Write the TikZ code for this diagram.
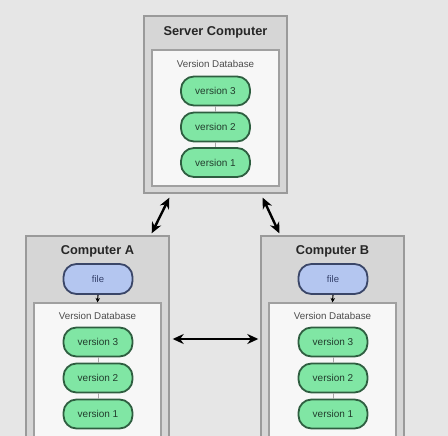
\documentclass[tikz,border=0pt]{standalone}
\usepackage{fontspec}
\setmainfont{Liberation Sans}
\usetikzlibrary{arrows.meta,calc}
\definecolor{bgc}{HTML}{E6E6E6}
\definecolor{boxfill}{HTML}{D6D6D6}
\definecolor{boxline}{HTML}{9A9A9A}
\definecolor{dbfill}{HTML}{F7F7F7}
\definecolor{dbline}{HTML}{A0A0A0}
\definecolor{vfill}{HTML}{80E6A4}
\definecolor{vline}{HTML}{2E5E40}
\definecolor{vtext}{HTML}{223D2D}
\definecolor{ffill}{HTML}{B4C6F0}
\definecolor{fline}{HTML}{3A4668}
\definecolor{ftext}{HTML}{34406A}
\tikzset{
  x=1pt, y=-1pt,
  outerbox/.style={draw=boxline, line width=1.4pt, fill=boxfill, inner sep=0pt},
  dbbox/.style={draw=dbline, line width=1.1pt, fill=dbfill, inner sep=0pt},
  verpill/.style={draw=vline, line width=1.8pt, fill=vfill, rounded corners=13pt,
    minimum width=69pt, minimum height=29pt, inner sep=0pt,
    font=\fontsize{10}{12}\selectfont, text=vtext},
  filepill/.style={draw=fline, line width=1.8pt, fill=ffill, rounded corners=13pt,
    minimum width=69pt, minimum height=30pt, inner sep=0pt,
    font=\fontsize{9.5}{11}\selectfont, text=ftext},
  titletext/.style={font=\bfseries\fontsize{12.8}{15}\selectfont, text=black!85, inner sep=0pt},
  dbtext/.style={font=\fontsize{9.8}{11}\selectfont, text=black!70, inner sep=0pt},
  vlink/.style={draw=gray!70, line width=0.9pt},
  biarrow/.style={line width=2.4pt, {Stealth[length=11pt,width=10pt]}-{Stealth[length=11pt,width=10pt]}},
  smallarrow/.style={line width=1.1pt, -{Stealth[length=4.5pt,width=4.5pt]}},
}
\begin{document}
\begin{tikzpicture}
\useasboundingbox (0,0) rectangle (448,436);
\fill[bgc] (0,0) rectangle (448,436);
\begin{scope}
\clip (0,0) rectangle (448,436);
% Server
\node[outerbox, minimum width=143pt, minimum height=177pt] (srv) at (215.5,104.5) {};
\node[titletext] (srvt) at (215.5,32) {Server Computer};
\node[dbbox, minimum width=127pt, minimum height=136pt] (srvdb) at (215.5,118) {};
\node[dbtext] (srvdbt) at (215.5,64) {Version Database};
\node[verpill] (s3) at (215.5,91) {version 3};
\node[verpill] (s2) at (215.5,127) {version 2};
\node[verpill] (s1) at (215.5,162.5) {version 1};
\draw[vlink] (s3) -- (s2);
\draw[vlink] (s2) -- (s1);
% Computer A
\node[outerbox, minimum width=143pt, minimum height=240pt] (ca) at (97.5,356) {};
\node[titletext] (cat) at (97.5,251) {Computer A};
\node[filepill] (fa) at (98,279) {file};
\node[dbbox, minimum width=127pt, minimum height=165pt] (adb) at (97.5,385.5) {};
\node[dbtext] (adbt) at (97.5,316) {Version Database};
\node[verpill] (a3) at (98,342) {version 3};
\node[verpill] (a2) at (98,378) {version 2};
\node[verpill] (a1) at (98,414) {version 1};
\draw[vlink] (a3) -- (a2);
\draw[vlink] (a2) -- (a1);
\draw[smallarrow] (fa.south) -- (adb.north);
% Computer B
\node[outerbox, minimum width=143pt, minimum height=240pt] (cb) at (332.5,356) {};
\node[titletext] (cbt) at (332.5,251) {Computer B};
\node[filepill] (fb) at (333,279) {file};
\node[dbbox, minimum width=127pt, minimum height=165pt] (bdb) at (332.5,385.5) {};
\node[dbtext] (bdbt) at (332.5,316) {Version Database};
\node[verpill] (b3) at (333,342) {version 3};
\node[verpill] (b2) at (333,378) {version 2};
\node[verpill] (b1) at (333,414) {version 1};
\draw[vlink] (b3) -- (b2);
\draw[vlink] (b2) -- (b1);
\draw[smallarrow] (fb.south) -- (bdb.north);
\end{scope}
% arrows
\draw[biarrow] ([xshift=26pt,yshift=-4pt]srv.south west) -- ([xshift=-18pt,yshift=2pt]ca.north east);
\draw[biarrow] ([xshift=-25pt,yshift=-4pt]srv.south east) -- ([xshift=19pt,yshift=2pt]cb.north west);
\draw[biarrow] ([xshift=3pt,yshift=17pt]ca.east) -- ([xshift=-2pt,yshift=17pt]cb.west);
\end{tikzpicture}
\end{document}
